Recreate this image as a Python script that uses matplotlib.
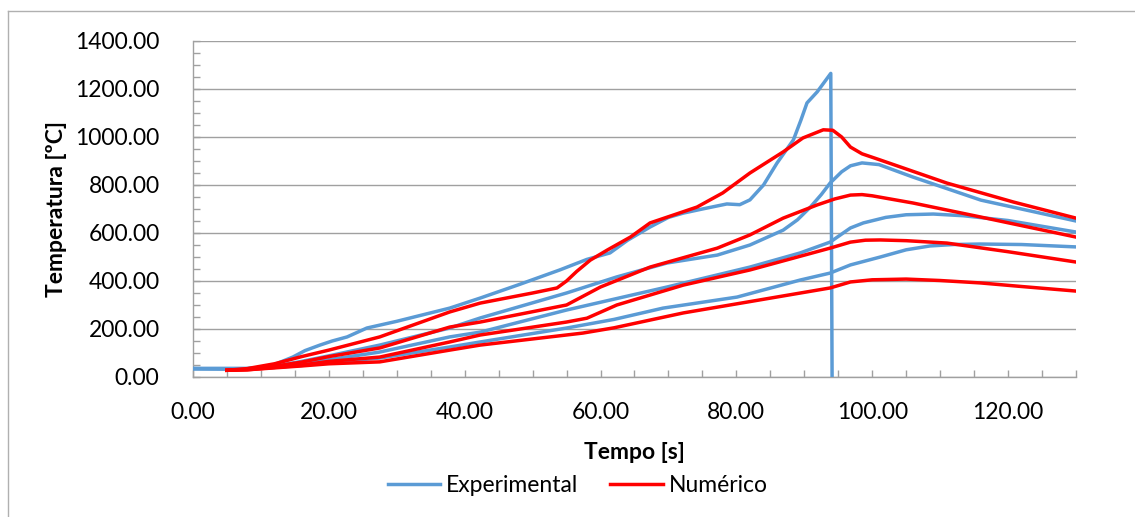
import matplotlib.pyplot as plt
from matplotlib.lines import Line2D
from matplotlib.ticker import MultipleLocator, FormatStrFormatter

plt.rcParams['font.family'] = ['Lato', 'DejaVu Sans']

# experimental curves (blue)
exp1_t = [0, 5, 8, 10, 12, 14.7, 16.5, 18.7, 20.5, 22.7, 25.6, 30, 37.8, 42.3, 48, 54, 58, 61.4, 64, 67.3,
          70, 72.2, 75, 78.6, 80.5, 82, 84, 86, 88.4, 89.5, 90.4, 91.9, 93.9, 94.1]
exp1_y = [35, 33, 34, 40, 52, 83, 110, 133, 150, 167, 204, 232, 287, 329, 385, 446, 490, 517, 570, 625,
          665, 683, 700, 721, 718, 738, 800, 892, 988, 1070, 1142, 1188, 1265, -40]

exp2_t = [0, 8, 12, 16, 20, 27.5, 37.8, 42.3, 55, 62.4, 69.8, 77.2, 82, 86.9, 89, 90.9, 92.5, 93.8, 95.5,
          96.8, 98.5, 101, 106, 116, 130]
exp2_y = [35, 35, 45, 65, 88, 133, 204, 246, 350, 417, 475, 508, 550, 612, 655, 708, 760, 808, 855,
          880, 892, 885, 833, 737, 650]

exp3_t = [0, 8, 12, 16, 20, 27.5, 37.8, 42.3, 55, 69.8, 82, 89.4, 93.8, 96.8, 98.7, 102, 105, 109, 113.4,
          120, 130]
exp3_y = [35, 35, 42, 55, 72, 104, 167, 187, 279, 375, 458, 517, 562, 621, 642, 665, 676, 679, 672,
          652, 604]

exp4_t = [0, 8, 12, 16, 20, 27.5, 37.8, 42.3, 55, 62, 69.2, 80.1, 89.4, 93.8, 96.8, 101.2, 105, 108.5,
          112, 115.9, 122, 130]
exp4_y = [35, 35, 40, 48, 60, 79, 125, 146, 204, 240, 287, 333, 404, 433, 467, 500, 530, 546,
          552, 554, 552, 542]

# numerical curves (red)
num1_t = [5, 8, 12, 16, 20, 27.5, 37.8, 42.3, 50, 53.6, 55, 56.5, 58.5, 61, 64.4, 67.3, 74.2, 78, 82,
          86.9, 89.8, 92.8, 94.2, 95.5, 96.8, 98.5, 101.2, 111, 120.8, 130]
num1_y = [28, 35, 55, 85, 112, 167, 271, 308, 350, 371, 400, 440, 487, 529, 583, 642, 708, 767, 850,
          938, 996, 1030, 1028, 1000, 958, 930, 904, 808, 729, 662]

num2_t = [5, 8, 12, 16, 20, 27.5, 37.8, 42.3, 55, 57, 60, 67.3, 77.2, 82, 86.9, 91.9, 94.5, 96.8, 98.5,
          100, 106, 115.9, 130]
num2_y = [28, 32, 45, 62, 85, 121, 208, 229, 300, 330, 375, 458, 537, 592, 662, 717, 742, 758, 760,
          755, 725, 667, 583]

num3_t = [5, 8, 12, 16, 20, 27.5, 37.8, 42.3, 55, 58, 62.4, 72.2, 82, 93.8, 96.8, 99, 101.2, 105, 111,
          120, 130]
num3_y = [28, 30, 40, 50, 65, 83, 146, 175, 229, 245, 300, 383, 446, 537, 562, 570, 571, 568, 558,
          522, 479]

num4_t = [5, 8, 12, 16, 20, 27.5, 37.8, 42.3, 57.4, 62, 72.2, 93.8, 96.8, 100, 105, 110, 115.9, 122, 130]
num4_y = [28, 30, 38, 46, 55, 63, 112, 133, 183, 205, 267, 371, 396, 405, 408, 402, 392, 377, 358]

blue = '#5B9BD5'
red = '#FF0000'
fs = 16.5

fig = plt.figure(figsize=(11.35, 5.17), dpi=100)
ax = fig.add_axes([0.170, 0.2708, 0.778, 0.6499])

for t, y in [(exp1_t, exp1_y), (exp2_t, exp2_y), (exp3_t, exp3_y), (exp4_t, exp4_y)]:
    ax.plot(t, y, color=blue, lw=2.5, solid_joinstyle='round', zorder=3)
for t, y in [(num1_t, num1_y), (num2_t, num2_y), (num3_t, num3_y), (num4_t, num4_y)]:
    ax.plot(t, y, color=red, lw=2.5, solid_joinstyle='round', zorder=4)

ax.set_xlim(0, 130)
ax.set_ylim(0, 1400)
ax.xaxis.set_major_locator(MultipleLocator(20))
ax.xaxis.set_minor_locator(MultipleLocator(5))
ax.yaxis.set_major_locator(MultipleLocator(200))
ax.yaxis.set_minor_locator(MultipleLocator(50))
ax.xaxis.set_major_formatter(FormatStrFormatter('%.2f'))
ax.yaxis.set_major_formatter(FormatStrFormatter('%.2f'))

ax.grid(axis='y', which='major', color='#A0A0A0', lw=1.0)
ax.set_axisbelow(True)
for s in ['top', 'right']:
    ax.spines[s].set_visible(False)
for s in ['left', 'bottom']:
    ax.spines[s].set_color('#A0A0A0')
    ax.spines[s].set_linewidth(1.0)
ax.tick_params(which='both', direction='in', length=5, color='#A0A0A0', width=1,
               labelsize=fs, labelcolor='black')
ax.tick_params(axis='x', which='both', pad=18)
ax.tick_params(axis='y', which='both', pad=24)

ax.set_xlabel('Tempo [s]', fontsize=fs, fontweight='bold', labelpad=14)
ax.set_ylabel('Temperatura [ºC]', fontsize=fs, fontweight='bold', labelpad=6)

handles = [Line2D([], [], color=blue, lw=2.5), Line2D([], [], color=red, lw=2.5)]
fig.legend(handles, ['Experimental', 'Numérico'], loc='center', bbox_to_anchor=(0.509, 0.060),
           ncol=2, frameon=False, fontsize=fs, handlelength=2.3, handletextpad=0.25,
           columnspacing=1.4)

# outer chart frame (top and left edges visible)
fig.add_artist(Line2D([8 / 1135, 1], [1 - 11 / 517, 1 - 11 / 517], transform=fig.transFigure,
                      color='#B0B0B0', lw=1))
fig.add_artist(Line2D([8 / 1135, 8 / 1135], [0, 1 - 11 / 517], transform=fig.transFigure,
                      color='#B0B0B0', lw=1))

fig.savefig('out.png', dpi=100)
